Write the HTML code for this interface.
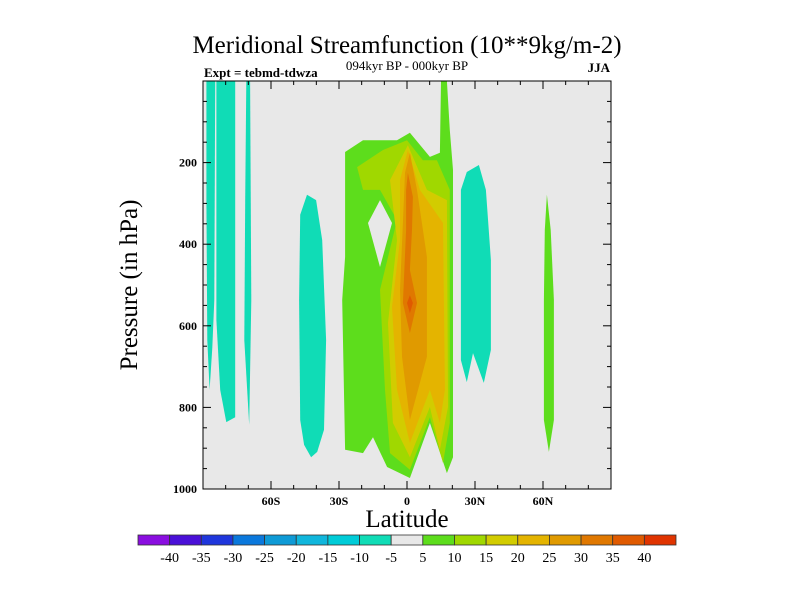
<!DOCTYPE html>
<html><head><meta charset="utf-8"><style>
body{margin:0;background:#fff}
svg text{font-family:"Liberation Serif",serif;fill:#000}
</style></head><body>
<svg id="c" width="800" height="600" xmlns="http://www.w3.org/2000/svg">
<text x="407" y="53" font-size="25" text-anchor="middle">Meridional Streamfunction (10**9kg/m-2)</text>
<text x="407" y="70" font-size="13" text-anchor="middle">094kyr BP - 000kyr BP</text>
<text x="204" y="77" font-size="13" font-weight="bold">Expt = tebmd-tdwza</text>
<text x="610" y="72" font-size="13" font-weight="bold" text-anchor="end">JJA</text>
<text transform="translate(137,285) rotate(-90)" font-size="25" text-anchor="middle">Pressure (in hPa)</text>
<text x="407" y="527" font-size="25" text-anchor="middle">Latitude</text>
<rect x="203" y="81" width="408" height="408" fill="#e8e8e8"/>
<g id="fills"></g>
<g id="axes"></g>
<g id="cbar"></g>
</svg>
<script>
const latMin=-90, latMax=90, pMin=0, pMax=1000;
const xTicks=[-60,-30,0,30,60];
const xTickLabels=["60S","30S","0","30N","60N"];
const yTicks=[200,400,600,800,1000];
const levels=[-40,-35,-30,-25,-20,-15,-10,-5,5,10,15,20,25,30,35,40];
const levelColors=["#8a0ee0","#4a10d8","#1f36dc","#0a78dc","#0e9ad6","#10b6dc","#00ccd8","#10dcb6","#e8e8e8","#5ddd1c","#a0d800","#d2cc00","#e4b400","#e09a00","#e07800","#e05a00","#e03400"];
const cyanStrip1=[[-88.5,0],[-84.6,0],[-85.0,537],[-85.9,654],[-87.1,757],[-88.1,635],[-88.5,292]];
const cyanStrip2=[[-84.1,0],[-75.8,0],[-75.8,537],[-75.8,824],[-79.7,836],[-82.4,757],[-84.1,586]];
const cyanStrip3=[[-70.9,0],[-69.2,0],[-68.7,537],[-69.6,843],[-71.8,635],[-71.4,292]];
const cyanSouth=[[-44.1,279],[-40.1,292],[-37.4,390],[-35.7,635],[-36.6,855],[-39.6,909],[-42.3,922],[-45.4,892],[-47.1,831],[-47.6,537],[-47.1,328]];
const cyanNorth=[[31.7,206],[34.8,267],[37.0,439],[37.0,659],[33.9,740],[29.1,667],[26.4,738],[23.8,684],[23.8,267],[26.4,223]];
const greenNorth=[[61.7,279],[63.4,365],[64.8,537],[64.8,831],[62.6,909],[60.4,831],[60.4,537],[60.8,365]];
const greenCore=[[-27.3,174],[-19.4,145],[-4.4,145],[1.3,127],[10.1,186],[14.5,176],[15.0,0],[17.6,0],[18.9,120],[20.3,218],[20.3,922],[17.6,961],[10.1,838],[1.3,973],[-8.8,946],[-15.0,873],[-19.4,912],[-27.3,904],[-28.6,537],[-27.3,431]];
const level10=[[-22.0,211],[-10.6,169],[0,145],[7.0,194],[13.2,194],[18.9,267],[18.9,838],[15.9,936],[10.1,824],[1.3,953],[-7.5,912],[-9.7,757],[-11.9,512],[-4.4,341],[-11.9,267],[-19.4,267]];
const hole=[[-11.9,292],[-6.6,348],[-11.9,456],[-17.2,348]];
const level15=[[-7.5,243],[0.4,157],[8.8,267],[17.6,292],[18.1,799],[14.5,904],[10.1,799],[1.3,922],[-6.2,838],[-8.4,593],[-4.4,390]];
const level20=[[-3.1,243],[0.4,169],[5.7,267],[15.9,348],[16.7,757],[14.5,838],[10.1,757],[1.3,887],[-4.4,757],[-6.6,554],[-3.1,390]];
const level25=[[-0.9,225],[1.3,176],[4.4,267],[8.8,431],[8.8,676],[1.3,831],[-2.2,676],[-3.1,512],[-1.8,348]];
const level30=[[0.4,225],[2.6,284],[2.2,365],[1.3,463],[4.4,544],[1.3,618],[-1.8,544],[-0.4,365],[-0.4,267]];
const level35=[[1.3,525],[2.6,544],[1.3,569],[0,544]];

const X0=203,X1=611,Y0=81,Y1=489;
const xs=v=>X0+(v-latMin)/(latMax-latMin)*(X1-X0);
const ys=v=>Y0+(v-pMin)/(pMax-pMin)*(Y1-Y0);
const NS="http://www.w3.org/2000/svg";
function mk(t,a,parent){const e=document.createElementNS(NS,t);for(const k in a)e.setAttribute(k,a[k]);parent.appendChild(e);return e;}
const fills=document.getElementById('fills');
const polys=[[cyanStrip1,7,'cyan-strip-1'],[cyanStrip2,7,'cyan-strip-2'],[cyanStrip3,7,'cyan-strip-3'],[cyanSouth,7,'cyan-south-cell'],[cyanNorth,7,'cyan-north-cell'],[greenNorth,9,'green-north-cell'],[greenCore,9,'green-core'],[level10,10,'contour-10'],[hole,8,'contour-hole'],[level15,11,'contour-15'],[level20,12,'contour-20'],[level25,13,'contour-25'],[level30,14,'contour-30'],[level35,15,'contour-35']];
polys.forEach(([pts,ci,nm])=>{
  const e=mk('polygon',{points:pts.map(p=>xs(p[0]).toFixed(1)+','+ys(p[1]).toFixed(1)).join(' '),fill:levelColors[ci]},fills);
  
  
});
const ax=document.getElementById('axes');
const fr=mk('rect',{x:X0,y:Y0,width:X1-X0,height:Y1-Y0,fill:'none',stroke:'#000','stroke-width':1},ax);


for(let l=-80;l<=80;l+=10){
  const x=xs(l), len=(l%30===0)?8:4;
  mk('line',{x1:x,y1:Y1,x2:x,y2:Y1-len,stroke:'#000'},ax);
  mk('line',{x1:x,y1:Y0,x2:x,y2:Y0+len,stroke:'#000'},ax);
}
for(let p=50;p<1000;p+=50){
  const y=ys(p), len=(p%200===0)?8:4;
  mk('line',{x1:X0,y1:y,x2:X0+len,y2:y,stroke:'#000'},ax);
  mk('line',{x1:X1,y1:y,x2:X1-len,y2:y,stroke:'#000'},ax);
}
xTicks.forEach((v,i)=>{
  const t=mk('text',{x:xs(v),y:Y1+16,'font-size':12,'font-weight':'bold','text-anchor':'middle'},ax);
  t.textContent=xTickLabels[i];
  
  
});
yTicks.forEach(v=>{
  const t=mk('text',{x:X0-6,y:ys(v)+4,'font-size':12,'font-weight':'bold','text-anchor':'end'},ax);
  t.textContent=v;
  
  
});
const cb=document.getElementById('cbar');
const CX0=138,CX1=676,CY=535,CH=10,n=levelColors.length,w=(CX1-CX0)/n;
levelColors.forEach((c,i)=>{
  const r=mk('rect',{x:CX0+i*w,y:CY,width:w,height:CH,fill:c,stroke:'#333','stroke-width':0.8},cb);
  
  
});
levels.forEach((v,i)=>{
  const t=mk('text',{x:CX0+(i+1)*w,y:CY+27,'font-size':14,'text-anchor':'middle'},cb);
  t.textContent=v;
  
  
});
</script>
</body></html>
